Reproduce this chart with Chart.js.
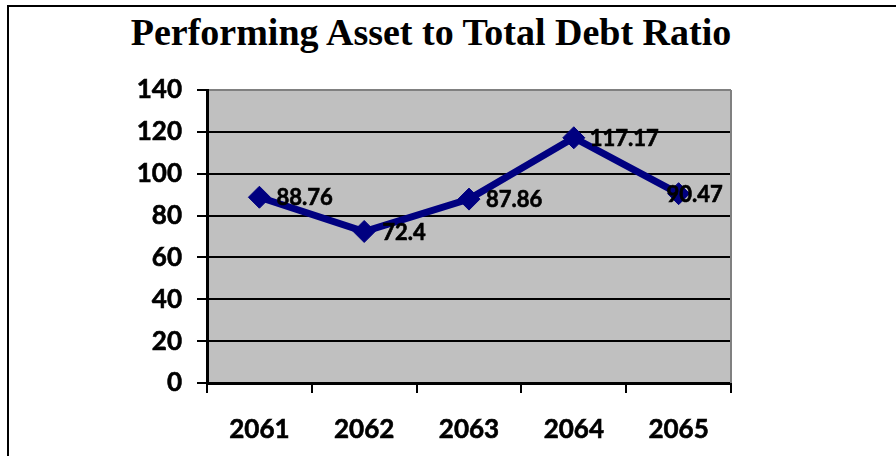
<!DOCTYPE html>
<html>
<head>
<meta charset="utf-8">
<title>Performing Asset to Total Debt Ratio</title>
<script src="https://cdn.jsdelivr.net/npm/chart.js@4.4.1/dist/chart.umd.min.js"></script>
<style>
  html, body { margin: 0; padding: 0; background: #fff; }
  #wrap { position: relative; width: 896px; height: 456px; overflow: hidden; }
  #frame {
    position: absolute; left: 7px; top: 5px; width: 1000px; height: 1000px;
    border-top: 2px solid #000; border-left: 2px solid #000;
  }
  #title {
    position: absolute; left: 0; top: 10px; width: 862px; line-height: 42px;
    text-align: center; color: #000;
    font: bold 38px "Liberation Serif", "Times New Roman", serif;
  }
  canvas { position: absolute; left: 0; top: 0; }
</style>
</head>
<body>
<div id="wrap">
  <div id="frame"></div>
  <div id="title">Performing Asset to Total Debt Ratio</div>
  <canvas id="ratioChart" width="896" height="456"></canvas>
</div>
<script>
// fiscal years and ratio values
const years = ['2061', '2062', '2063', '2064', '2065'];
const ratio = [88.76, 72.4, 87.86, 117.17, 90.47];

// y axis range
const yMin = 0;
const yMax = 140;
const yStep = 20;

// horizontal nudge for each value label (last one sits over its marker)
const labelDx = [17, 18, 17, 16, -12];

const axisFont = { family: 'Lato', weight: 'bold', size: 26 };

// grey plot area plus the lighter right-hand edge
const plotBackground = {
  id: 'plotBackground',
  beforeDraw(chart) {
    const { ctx, chartArea: a } = chart;
    ctx.save();
    ctx.fillStyle = '#c0c0c0';
    ctx.fillRect(a.left, a.top, a.right - a.left, a.bottom - a.top);
    ctx.restore();
  },
  beforeDatasetsDraw(chart) {
    const { ctx, chartArea: a } = chart;
    ctx.save();
    ctx.strokeStyle = '#808080';
    ctx.lineWidth = 2;
    ctx.beginPath();
    ctx.moveTo(a.right, a.top);
    ctx.lineTo(a.right, a.bottom);
    ctx.stroke();
    ctx.restore();
  }
};

// value labels next to each marker
const valueLabels = {
  id: 'valueLabels',
  afterDatasetsDraw(chart) {
    const { ctx } = chart;
    const meta = chart.getDatasetMeta(0);
    ctx.save();
    ctx.font = 'bold 22px Lato';
    ctx.fillStyle = '#000';
    ctx.strokeStyle = '#000';
    ctx.lineWidth = 0.6;
    ctx.textAlign = 'left';
    ctx.textBaseline = 'middle';
    meta.data.forEach((pt, i) => {
      const txt = String(ratio[i]);
      ctx.fillText(txt, pt.x + labelDx[i], pt.y + 1);
      ctx.strokeText(txt, pt.x + labelDx[i], pt.y + 1);
    });
    ctx.restore();
  }
};

new Chart(document.getElementById('ratioChart'), {
  type: 'line',
  data: {
    labels: years,
    datasets: [{
      label: 'Ratio',
      data: ratio,
      borderColor: '#000080',
      backgroundColor: '#000080',
      borderWidth: 7,
      tension: 0,
      pointStyle: 'rectRot',
      pointRadius: 11,
      pointBackgroundColor: '#000080',
      pointBorderColor: '#000080',
      pointBorderWidth: 1
    }]
  },
  options: {
    responsive: false,
    animation: false,
    layout: { padding: { top: 90, right: 165, left: 0, bottom: 0 } },
    plugins: { legend: { display: false }, tooltip: { enabled: false } },
    scales: {
      x: {
        offset: true,
        grid: { offset: true, drawOnChartArea: false, tickLength: 10, color: '#000', lineWidth: 2 },
        border: { color: '#000', width: 3 },
        ticks: {
          color: '#000', font: axisFont, padding: 21, maxRotation: 0,
          textStrokeColor: '#000', textStrokeWidth: 0.6
        },
        afterFit(s) { s.height = 73; }
      },
      y: {
        min: yMin,
        max: yMax,
        ticks: {
          stepSize: yStep, color: '#000', font: axisFont, padding: 15,
          textStrokeColor: '#000', textStrokeWidth: 0.6
        },
        grid: {
          color: c => (c.tick && c.tick.value === yMax ? '#808080' : '#000'),
          tickColor: '#000',
          lineWidth: 2,
          tickLength: 10
        },
        border: { color: '#000', width: 3 },
        afterFit(s) { s.width = 207; }
      }
    }
  },
  plugins: [plotBackground, valueLabels]
});
</script>
</body>
</html>
